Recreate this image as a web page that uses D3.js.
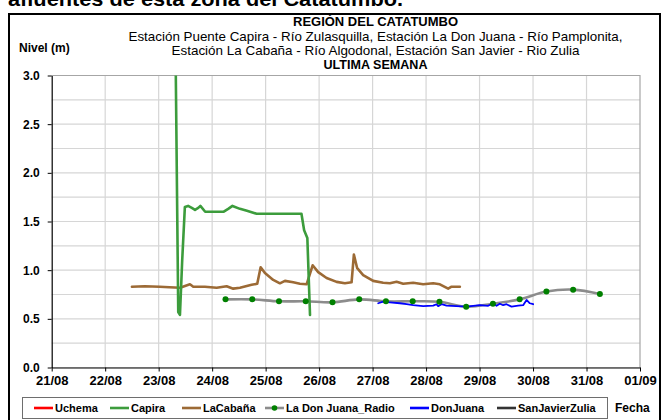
<!DOCTYPE html>
<html>
<head>
<meta charset="utf-8">
<script src="https://cdn.jsdelivr.net/npm/d3@7"></script>
<style>
  html, body { margin: 0; padding: 0; background: #fff; }
  svg { display: block; font-family: "Liberation Sans", Arial, sans-serif; }
</style>
</head>
<body>
<svg id="chart" width="669" height="420"></svg>
<script>
// Day of month (August; 32 = 01/09) and level in metres
const uchema = [];
const capira = [
  [23.315, 3.30], [23.366, 0.57], [23.398, 0.54], [23.44, 1.10], [23.49, 1.65],
  [23.55, 1.66], [23.62, 1.64], [23.68, 1.62], [23.74, 1.64], [23.78, 1.66],
  [23.87, 1.60], [24.00, 1.60], [24.21, 1.60], [24.30, 1.63], [24.38, 1.66],
  [24.52, 1.63], [24.65, 1.61], [24.83, 1.58], [25.10, 1.58], [25.40, 1.58],
  [25.58, 1.58], [25.67, 1.58], [25.72, 1.41], [25.78, 1.33], [25.83, 0.54]
];
const laCabana = [
  [22.50, 0.83], [22.74, 0.835], [23.02, 0.83], [23.20, 0.825], [23.40, 0.82],
  [23.585, 0.855], [23.647, 0.83], [23.865, 0.83], [24.084, 0.82], [24.271, 0.835],
  [24.394, 0.81], [24.52, 0.82], [24.738, 0.85], [24.843, 0.86], [24.907, 1.03],
  [24.987, 0.97], [25.142, 0.90], [25.267, 0.865], [25.361, 0.89], [25.516, 0.875],
  [25.641, 0.86], [25.766, 0.855], [25.879, 1.05], [25.983, 0.98], [26.14, 0.92],
  [26.327, 0.88], [26.482, 0.865], [26.607, 0.875], [26.65, 1.16], [26.712, 1.02],
  [26.824, 0.95], [27.011, 0.89], [27.198, 0.87], [27.323, 0.865], [27.449, 0.88],
  [27.572, 0.86], [27.759, 0.87], [27.946, 0.855], [28.133, 0.865], [28.258, 0.855],
  [28.413, 0.81], [28.477, 0.83], [28.632, 0.83]
];
const laDonJuanaRadio = [
  [24.25, 0.70], [24.75, 0.70], [25.25, 0.68], [25.75, 0.68], [26.25, 0.67],
  [26.75, 0.70], [27.25, 0.68], [27.75, 0.68], [28.25, 0.675], [28.75, 0.625],
  [29.25, 0.655], [29.75, 0.70], [30.25, 0.78], [30.75, 0.80], [31.25, 0.755]
];
const donJuana = [
  [27.105, 0.66], [27.198, 0.676], [27.323, 0.67], [27.51, 0.66], [27.636, 0.65],
  [27.759, 0.64], [27.946, 0.63], [28.133, 0.635], [28.196, 0.65], [28.226, 0.63],
  [28.29, 0.65], [28.383, 0.635], [28.57, 0.63], [28.757, 0.625], [29.006, 0.64],
  [29.161, 0.634], [29.254, 0.66], [29.318, 0.634], [29.379, 0.655], [29.441, 0.64],
  [29.505, 0.65], [29.598, 0.625], [29.722, 0.635], [29.815, 0.64], [29.879, 0.694],
  [29.94, 0.66], [30.002, 0.65]
];
const sanJavierZulia = [];

const dateLabels = ["21/08", "22/08", "23/08", "24/08", "25/08", "26/08",
                    "27/08", "28/08", "29/08", "30/08", "31/08", "01/09"];
const levelTicks = [0, 0.5, 1.0, 1.5, 2.0, 2.5, 3.0];
const gridLevels = d3.range(0, 3.001, 0.25);

const titleLines = [
  "REGIÓN DEL CATATUMBO",
  "Estación Puente Capira - Río Zulasquilla, Estación La Don Juana - Río Pamplonita,",
  "Estación La Cabaña - Río Algodonal, Estación San Javier - Rio Zulia",
  "ULTIMA SEMANA"
];
const seriesNames = ["Uchema", "Capira", "LaCabaña", "La Don Juana_Radio", "DonJuana", "SanJavierZulia"];
const seriesColors = ["#ff0000", "#3c9c3c", "#9c6a35", "#8c8c8c", "#0000ff", "#333333"];

const svg = d3.select("#chart");

const x = d3.scaleLinear().domain([21, 32]).range([51.7, 640]);
const y = d3.scaleLinear().domain([0, 3]).range([367.5, 75.5]);

// Heading above the framed chart (partly outside the view)
svg.append("text")
  .attr("x", 8).attr("y", 6)
  .attr("font-size", 21).attr("font-weight", "bold").attr("fill", "#000")
  .attr("textLength", 395).attr("lengthAdjust", "spacingAndGlyphs")
  .text("afluentes de esta zona del Catatumbo.");

// Outer frame
svg.append("rect")
  .attr("x", 9).attr("y", 14).attr("width", 651).attr("height", 420)
  .attr("fill", "none").attr("stroke", "#000").attr("stroke-width", 2);

// Titles
const titleY = [26, 40.5, 54.5, 68.5];
const titleWidth = [165, 494, 408, 104];
titleLines.forEach((t, i) => {
  const bold = (i === 0 || i === 3);
  svg.append("text")
    .attr("x", 375.5).attr("y", titleY[i])
    .attr("text-anchor", "middle")
    .attr("font-size", bold ? 12.8 : 12.6)
    .attr("font-weight", bold ? "bold" : "normal")
    .attr("fill", "#000")
    .attr("textLength", titleWidth[i]).attr("lengthAdjust", "spacingAndGlyphs")
    .text(t);
});

svg.append("text")
  .attr("x", 19).attr("y", 52)
  .attr("font-size", 12).attr("font-weight", "bold").attr("fill", "#000")
  .text("Nivel (m)");

// Grid
const grid = svg.append("g");
grid.selectAll("line.h").data(gridLevels).join("line")
  .attr("x1", x(21)).attr("x2", x(32))
  .attr("y1", d => y(d)).attr("y2", d => y(d))
  .attr("stroke", "#d6d6d6").attr("stroke-width", 1.2);
grid.selectAll("line.v").data(d3.range(22, 32)).join("line")
  .attr("x1", d => x(d)).attr("x2", d => x(d))
  .attr("y1", y(0)).attr("y2", y(3))
  .attr("stroke", "#d6d6d6").attr("stroke-width", 1.2);

// Plot-area border (top and right)
svg.append("path")
  .attr("d", `M${x(21)},${y(3)}H${x(32)}V${y(0)}`)
  .attr("fill", "none").attr("stroke", "#a6a6a6").attr("stroke-width", 1.2);

// Axes
const xAxis = d3.axisBottom(x)
  .tickValues(d3.range(21, 33))
  .tickFormat((d, i) => dateLabels[i])
  .tickSize(4).tickSizeOuter(0).tickPadding(4);
const gx = svg.append("g").attr("transform", `translate(0,${y(0)})`).call(xAxis);
gx.select(".domain").attr("stroke", "#000").attr("stroke-width", 1.2);
gx.selectAll(".tick line").attr("stroke", "#000");
gx.selectAll(".tick text")
  .attr("font-size", 13).attr("font-weight", "bold").attr("fill", "#000")
  .attr("font-family", "Liberation Sans, Arial, sans-serif");

const yAxis = d3.axisLeft(y)
  .tickValues(levelTicks)
  .tickFormat(d3.format(".1f"))
  .tickSize(4).tickSizeOuter(0).tickPadding(8);
const gy = svg.append("g").attr("transform", `translate(${x(21)},0)`).call(yAxis);
gy.select(".domain").attr("stroke", "#000").attr("stroke-width", 1.2);
gy.selectAll(".tick line").attr("stroke", "#000");
gy.selectAll(".tick text")
  .attr("font-size", 12).attr("font-weight", "bold").attr("fill", "#000")
  .attr("font-family", "Liberation Sans, Arial, sans-serif");

// Series
svg.append("clipPath").attr("id", "plotClip")
  .append("rect")
  .attr("x", x(21)).attr("y", y(3))
  .attr("width", x(32) - x(21)).attr("height", y(0) - y(3));

const plot = svg.append("g").attr("clip-path", "url(#plotClip)");
const line = d3.line().x(d => x(d[0])).y(d => y(d[1]));
const smooth = d3.line().x(d => x(d[0])).y(d => y(d[1])).curve(d3.curveCatmullRom.alpha(0.5));

const series = [
  { data: uchema, color: seriesColors[0], width: 2.2, gen: line },
  { data: laCabana, color: seriesColors[2], width: 2.6, gen: line },
  { data: laDonJuanaRadio, color: seriesColors[3], width: 2.6, gen: smooth },
  { data: donJuana, color: seriesColors[4], width: 1.8, gen: line },
  { data: sanJavierZulia, color: seriesColors[5], width: 2.2, gen: line },
  { data: capira, color: seriesColors[1], width: 2.6, gen: line }
];
series.forEach(s => {
  if (!s.data.length) return;
  plot.append("path")
    .attr("d", s.gen(s.data))
    .attr("fill", "none")
    .attr("stroke", s.color)
    .attr("stroke-width", s.width)
    .attr("stroke-linejoin", "round")
    .attr("stroke-linecap", "round");
});

plot.selectAll("circle.radio").data(laDonJuanaRadio).join("circle")
  .attr("cx", d => x(d[0])).attr("cy", d => y(d[1]))
  .attr("r", 3).attr("fill", "#008000");

// Legend
svg.append("rect")
  .attr("x", 22.5).attr("y", 397.5).attr("width", 585).attr("height", 21)
  .attr("fill", "#fff").attr("stroke", "#6e6e6e").attr("stroke-width", 1);

const legendX = [34, 110, 182, 265, 410, 497];
const legend = svg.append("g");
seriesNames.forEach((name, i) => {
  const g = legend.append("g").attr("transform", `translate(${legendX[i]},408)`);
  g.append("line").attr("x1", 0).attr("x2", 19).attr("y1", 0).attr("y2", 0)
    .attr("stroke", seriesColors[i]).attr("stroke-width", 2.6);
  if (i === 3) {
    g.append("circle").attr("cx", 9.5).attr("cy", 0).attr("r", 2.8).attr("fill", "#008000");
  }
  g.append("text").attr("x", 21).attr("y", 4)
    .attr("font-size", 11).attr("font-weight", "bold").attr("fill", "#000")
    .text(name);
});

svg.append("text")
  .attr("x", 615).attr("y", 412)
  .attr("font-size", 12).attr("font-weight", "bold").attr("fill", "#000")
  .text("Fecha");
</script>
</body>
</html>
